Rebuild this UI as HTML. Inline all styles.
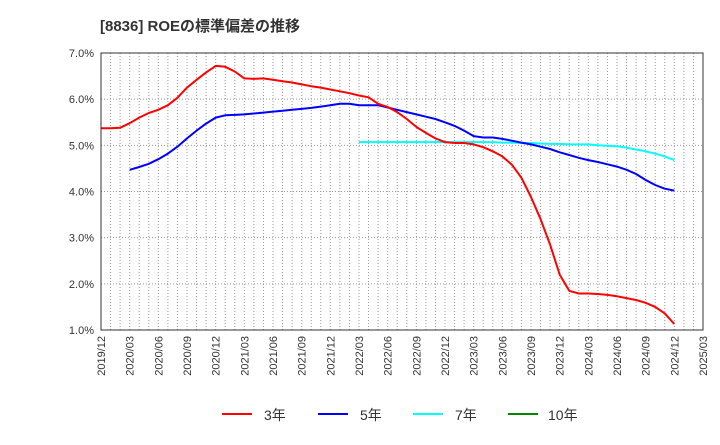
<!DOCTYPE html>
<html><head><meta charset="utf-8"><style>
body{margin:0;background:#fff;font-family:"Liberation Sans","Noto Sans CJK JP",sans-serif}
svg text{font-family:"Liberation Sans","Noto Sans CJK JP",sans-serif}
</style></head><body>
<svg id="c" width="720" height="440">
<text x="100" y="31" font-size="15" font-weight="bold" fill="#333">[8836]  ROEの標準偏差の推移</text>
<g id="grid"></g><g id="series"></g><g id="axes"></g>
<g>
<g><line x1="222" y1="414" x2="252" y2="414" stroke="#f00" stroke-width="2"/><text x="264" y="420" font-size="14" fill="#333">3年</text></g>
<g><line x1="318" y1="414" x2="348" y2="414" stroke="#00f" stroke-width="2"/><text x="360" y="420" font-size="14" fill="#333">5年</text></g>
<g><line x1="413" y1="414" x2="443" y2="414" stroke="#0ff" stroke-width="2"/><text x="455" y="420" font-size="14" fill="#333">7年</text></g>
<g><line x1="508" y1="414" x2="538" y2="414" stroke="#080" stroke-width="2"/><text x="548" y="420" font-size="14" fill="#333">10年</text></g>
</g>
</svg>
<script>
const xTickLabels=["2019/12","2020/03","2020/06","2020/09","2020/12","2021/03","2021/06","2021/09","2021/12","2022/03","2022/06","2022/09","2022/12","2023/03","2023/06","2023/09","2023/12","2024/03","2024/06","2024/09","2024/12","2025/03"];
const yTicks=[1,2,3,4,5,6,7];
const red=[5.37,5.37,5.38,5.48,5.6,5.7,5.77,5.87,6.03,6.25,6.42,6.58,6.72,6.7,6.6,6.45,6.44,6.45,6.42,6.39,6.36,6.32,6.28,6.25,6.21,6.17,6.13,6.08,6.04,5.9,5.83,5.72,5.57,5.4,5.27,5.15,5.07,5.05,5.05,5.02,4.96,4.87,4.76,4.58,4.3,3.88,3.4,2.85,2.2,1.85,1.79,1.79,1.78,1.76,1.73,1.69,1.65,1.59,1.5,1.36,1.13];
const blueStart=3;
const blue=[4.47,4.53,4.6,4.7,4.82,4.97,5.15,5.32,5.47,5.6,5.65,5.66,5.67,5.69,5.71,5.73,5.75,5.77,5.79,5.81,5.84,5.87,5.9,5.9,5.87,5.87,5.87,5.82,5.77,5.72,5.67,5.62,5.57,5.5,5.42,5.32,5.2,5.17,5.17,5.14,5.1,5.06,5.02,4.97,4.92,4.85,4.79,4.73,4.68,4.64,4.59,4.54,4.47,4.38,4.25,4.14,4.06,4.02];
const cyanStart=27;
const cyan=[5.07,5.07,5.07,5.07,5.07,5.07,5.07,5.07,5.07,5.07,5.07,5.07,5.07,5.07,5.07,5.06,5.06,5.05,5.05,5.04,5.03,5.03,5.02,5.02,5.02,5.0,4.99,4.98,4.95,4.91,4.87,4.82,4.76,4.68];
const X0=101,X1=703,Y0=53,Y1=330,NM=63;
const xs=i=>X0+(X1-X0)*i/NM;
const ys=v=>Y1-(v-1)/6*(Y1-Y0);
const NS="http://www.w3.org/2000/svg";
function mk(p,t,a){const e=document.createElementNS(NS,t);for(const k in a)e.setAttribute(k,a[k]);p.appendChild(e);return e;}
const g=document.getElementById('grid'),ax=document.getElementById('axes'),s=document.getElementById('series');
for(let i=1;i<NM;i++){const l=mk(g,'line',{x1:xs(i),x2:xs(i),y1:Y0,y2:Y1,stroke:'#999','stroke-dasharray':'1,2'});

}
yTicks.forEach(v=>{const l=mk(g,'line',{x1:X0,x2:X1,y1:ys(v),y2:ys(v),stroke:'#999','stroke-dasharray':'1,2'});


const t=mk(ax,'text',{x:94,y:ys(v)+4,'font-size':11,'text-anchor':'end',fill:'#333'});t.textContent=v.toFixed(1)+'%';

});
const fr=mk(ax,'rect',{x:X0,y:Y0,width:X1-X0,height:Y1-Y0,fill:'none',stroke:'#333'});


xTickLabels.forEach((lb,i)=>{const x=xs(i*3);const t=mk(ax,'text',{x:0,y:0,'font-size':11,'text-anchor':'end',fill:'#333',transform:`translate(${x+4},336) rotate(-90)`});t.textContent=lb;

});
function line(arr,start,col,name){const d=arr.map((v,i)=>(i?'L':'M')+xs(start+i).toFixed(1)+','+ys(v).toFixed(1)).join('');
const p=mk(s,'path',{d:d,fill:'none',stroke:col,'stroke-width':2,'stroke-linejoin':'round'});

}
line(cyan,cyanStart,'#0ff','series-7y');
line(blue,blueStart,'#00f','series-5y');
line(red,0,'#f00','series-3y');
</script>
</body></html>
